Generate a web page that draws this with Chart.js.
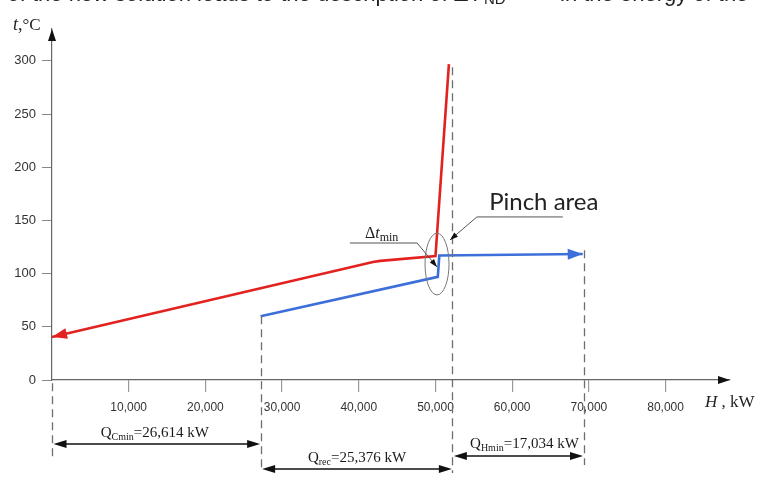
<!DOCTYPE html>
<html><head><meta charset="utf-8">
<script src="https://cdn.jsdelivr.net/npm/chart.js@4.4.1/dist/chart.umd.min.js"></script>
<style>html,body{margin:0;padding:0;background:#fff;overflow:hidden}canvas{display:block}</style>
</head><body>
<canvas id="c" width="761" height="483"></canvas>
<script>
// ---- data ----
const hotH  = [0, 41850, 42800, 50000, 51750];
const hotT  = [40.5, 111, 112, 116.5, 297];
const coldH = [27200, 50300, 50500, 69200];
const coldT = [60, 97, 117, 118.5];

const xTicks      = [10000, 20000, 30000, 40000, 50000, 60000, 70000, 80000];
const xTickLabels = ['10,000', '20,000', '30,000', '40,000', '50,000', '60,000', '70,000', '80,000'];
const yTicks      = [0, 50, 100, 150, 200, 250, 300];
const yTickLabels = ['0', '50', '100', '150', '200', '250', '300'];

// boundaries of the Q spans (kW on the H axis) and where their dashed lines start (°C)
const boundaryH    = [0, 27200, 52200, 69300];
const boundaryTopT = [-3, 60, 294, 122];
const qSubs   = ['Cmin', 'rec', 'Hmin'];
const qValues = ['26,614 kW', '25,376 kW', '17,034 kW'];

// pinch annotations (data coordinates)
const pinchEllipse = {h: 50200, t: 109, rh: 1565, rt: 29};
const pinchLeaderH = [66600, 55400, 51900];
const pinchLeaderT = [153.3, 153.3, 131.7];
const dtLeaderH = [38850, 47600, 50200];
const dtLeaderT = [128.8, 128.8, 106.3];

const RED = '#e3211f', BLUE = '#3d6fdb';

function arrowHead(ctx, tx, ty, fx, fy, len, hw, color) {
  const a = Math.atan2(ty - fy, tx - fx);
  ctx.save();
  ctx.translate(tx, ty); ctx.rotate(a);
  ctx.beginPath(); ctx.moveTo(0, 0); ctx.lineTo(-len, hw); ctx.lineTo(-len, -hw); ctx.closePath();
  ctx.fillStyle = color; ctx.fill();
  ctx.restore();
}
function rich(ctx, parts, x, y, align) {
  let w = 0;
  parts.forEach(p => { ctx.font = p.f; p.w = ctx.measureText(p.t).width; w += p.w; });
  let cx = align === 'center' ? x - w / 2 : (align === 'right' ? x - w : x);
  ctx.textAlign = 'left'; ctx.textBaseline = 'alphabetic';
  parts.forEach(p => { ctx.font = p.f; ctx.fillText(p.t, cx, y + (p.dy || 0)); cx += p.w; });
}

const deco = {
  id: 'deco',
  afterDraw(chart) {
    const ctx = chart.ctx, xs = chart.scales.x, ys = chart.scales.y;
    const X = v => xs.getPixelForValue(v), Y = v => ys.getPixelForValue(v);
    const bot = chart.chartArea.bottom, left = chart.chartArea.left, right = chart.chartArea.right, top = chart.chartArea.top;
    ctx.save();

    // clipped line of text at the very top (only the bottoms of the glyphs show)
    ctx.fillStyle = '#222';
    ctx.font = '22px "Liberation Sans", Arial, sans-serif';
    ctx.textAlign = 'right'; ctx.textBaseline = 'alphabetic';
    ctx.fillText('of the new solution leads to the description of \u0394T', 482, 1);
    ctx.font = '15px "Liberation Sans", Arial, sans-serif';
    ctx.textAlign = 'left';
    ctx.fillText('ND', 484, 4);
    ctx.font = '22px "Liberation Sans", Arial, sans-serif';
    ctx.fillText('in the energy of the', 560, 1);

    // axis arrowheads
    arrowHead(ctx, left, top, left, top + 20, 12, 4, '#111');
    arrowHead(ctx, right, bot, right - 20, bot, 12, 4, '#111');

    // curve arrowheads
    arrowHead(ctx, X(hotH[0]), Y(hotT[0]), X(hotH[1]), Y(hotT[1]), 15, 5.5, RED);
    const n = coldH.length - 1;
    arrowHead(ctx, X(coldH[n]), Y(coldT[n]), X(coldH[n - 1]), Y(coldT[n - 1]), 15, 5.5, BLUE);

    // dashed boundary lines
    const dashBottoms = [bot + 79, bot + 92, bot + 93, bot + 85];
    ctx.strokeStyle = '#6e6e6e'; ctx.lineWidth = 1.3; ctx.setLineDash([8, 5]);
    boundaryH.forEach((h, i) => {
      const x = Math.round(X(h)) + 0.5;
      ctx.beginPath(); ctx.moveTo(x, Y(boundaryTopT[i])); ctx.lineTo(x, dashBottoms[i]); ctx.stroke();
    });
    ctx.setLineDash([]);

    // Q double arrows and labels
    const arrowY = [bot + 64, bot + 89, bot + 76];
    const labelY = [bot + 57, bot + 82, bot + 68];
    const labelDx = [-2, 0, 6];
    ctx.strokeStyle = '#111'; ctx.fillStyle = '#111'; ctx.lineWidth = 1.3;
    for (let i = 0; i < 3; i++) {
      const x1 = X(boundaryH[i]) + 1.5, x2 = X(boundaryH[i + 1]) - 0.5, y = arrowY[i];
      ctx.beginPath(); ctx.moveTo(x1 + 8, y); ctx.lineTo(x2 - 8, y); ctx.stroke();
      arrowHead(ctx, x1, y, x2, y, 13, 4, '#111');
      arrowHead(ctx, x2, y, x1, y, 13, 4, '#111');
      ctx.fillStyle = '#1a1a1a';
      rich(ctx, [
        {t: 'Q', f: '15px "Liberation Serif", serif'},
        {t: qSubs[i], f: '10px "Liberation Serif", serif', dy: 3},
        {t: '=' + qValues[i], f: '15px "Liberation Serif", serif'}
      ], (x1 + x2) / 2 + labelDx[i], labelY[i], 'center');
    }

    // pinch ellipse
    ctx.strokeStyle = '#777'; ctx.lineWidth = 1;
    ctx.beginPath();
    ctx.ellipse(X(pinchEllipse.h), Y(pinchEllipse.t),
      X(pinchEllipse.h + pinchEllipse.rh) - X(pinchEllipse.h),
      Y(pinchEllipse.t - pinchEllipse.rt) - Y(pinchEllipse.t), 0, 0, Math.PI * 2);
    ctx.stroke();

    // leader lines
    function leader(H, T) {
      ctx.strokeStyle = '#555'; ctx.lineWidth = 1;
      ctx.beginPath();
      H.forEach((h, i) => { const px = X(h), py = Y(T[i]); i ? ctx.lineTo(px, py) : ctx.moveTo(px, py); });
      ctx.stroke();
      const k = H.length - 1;
      arrowHead(ctx, X(H[k]), Y(T[k]), X(H[k - 1]), Y(T[k - 1]), 8, 2.8, '#111');
    }
    leader(pinchLeaderH, pinchLeaderT);
    leader(dtLeaderH, dtLeaderT);

    // texts
    ctx.fillStyle = '#222';
    ctx.font = '24px Lato, "Open Sans", sans-serif';
    ctx.textAlign = 'left'; ctx.textBaseline = 'alphabetic';
    ctx.fillText('Pinch area', X(57000), Y(159.5));
    rich(ctx, [
      {t: '\u0394', f: '16px "Liberation Serif", serif'},
      {t: 't', f: 'italic 16px "Liberation Serif", serif'},
      {t: 'min', f: '12px "Liberation Serif", serif', dy: 3}
    ], X(40800), Y(133.5), 'left');
    rich(ctx, [
      {t: 'H', f: 'italic 17px "Liberation Serif", serif'},
      {t: ' , kW', f: '17px "Liberation Serif", serif'}
    ], 705, bot + 27, 'left');
    rich(ctx, [
      {t: 't', f: 'italic 18px "Liberation Serif", serif'},
      {t: ',', f: '18px "Liberation Serif", serif'},
      {t: '\u00B0C', f: '17px "Liberation Serif", serif'}
    ], 13, 30, 'left');

    ctx.restore();
  }
};

new Chart(document.getElementById('c'), {
  type: 'scatter',
  data: {
    datasets: [
      {data: hotH.map((h, i) => ({x: h, y: hotT[i]})), showLine: true, borderColor: RED, borderWidth: 2.6, pointRadius: 0, tension: 0, clip: false},
      {data: coldH.map((h, i) => ({x: h, y: coldT[i]})), showLine: true, borderColor: BLUE, borderWidth: 2.6, pointRadius: 0, tension: 0, clip: false}
    ]
  },
  options: {
    responsive: false, animation: false, devicePixelRatio: 1,
    layout: {padding: {top: 29, right: 31, left: 0, bottom: 0}},
    plugins: {legend: {display: false}, tooltip: {enabled: false}},
    scales: {
      x: {
        type: 'linear', min: 0, max: 88400,
        afterFit: s => { s.height = 103; },
        afterBuildTicks: s => { s.ticks = xTicks.map(v => ({value: v})); },
        ticks: {autoSkip: false, maxRotation: 0, padding: 8, color: '#333',
          font: {family: '"Liberation Sans", Arial, sans-serif', size: 12},
          callback: v => xTickLabels[xTicks.indexOf(v)]},
        grid: {drawOnChartArea: false, drawTicks: true, tickLength: 12, color: '#999', lineWidth: 1.2},
        border: {display: true, color: '#666', width: 1.2}
      },
      y: {
        type: 'linear', min: 0, max: 330,
        afterFit: s => { s.width = 52; },
        afterBuildTicks: s => { s.ticks = yTicks.map(v => ({value: v})); },
        ticks: {autoSkip: false, padding: 6, color: '#333',
          font: {family: '"Liberation Sans", Arial, sans-serif', size: 13},
          callback: v => yTickLabels[yTicks.indexOf(v)]},
        grid: {drawOnChartArea: false, drawTicks: true, tickLength: 10, color: '#888', lineWidth: 1},
        border: {display: true, color: '#666', width: 1.2}
      }
    }
  },
  plugins: [deco]
});
</script>
</body></html>
